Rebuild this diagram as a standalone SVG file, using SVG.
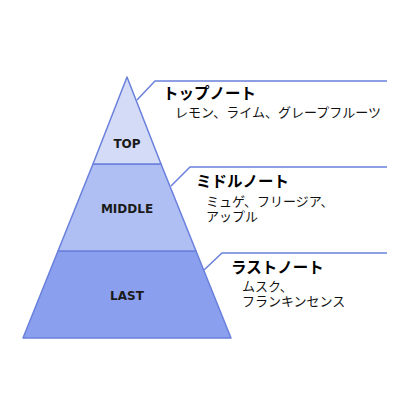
<svg xmlns="http://www.w3.org/2000/svg" width="410" height="410" viewBox="0 0 410 410">
<style>
.tier{stroke:#6a80dc;stroke-width:1.5;stroke-linejoin:round}
.lbl{font-family:"DejaVu Sans",sans-serif;font-weight:bold;font-size:12px;fill:#1a1a1a;text-anchor:middle}
.hd{font-family:"Noto Sans CJK JP",sans-serif;font-weight:bold;font-size:15.5px;fill:#000}
.sub{font-family:"Noto Sans CJK JP",sans-serif;font-size:13px;fill:#111}
.conn{fill:none;stroke:#6a80dc;stroke-width:1.5}
</style>
<rect width="410" height="410" fill="#fff"/>
<g id="connectors">
<polyline class="conn" points="137,100 155,81 387,81"/>
<polyline class="conn" points="171,186 190,167 387,167"/>
<polyline class="conn" points="204,270 222,253 387,253"/>
</g>
<g id="last">
<polygon class="tier" fill="#8a9fee" points="58,251 196,251 231,338 23,338"/>
<text class="lbl" x="127" y="300">LAST</text>
</g>
<g id="middle">
<polygon class="tier" fill="#afbef3" points="93,164 161,164 196,251 58,251"/>
<text class="lbl" x="127" y="212.5">MIDDLE</text>
</g>
<g id="top">
<polygon class="tier" fill="#d4dbf7" points="127,77 161,164 93,164"/>
<text class="lbl" x="127" y="147.5">TOP</text>
</g>
<g id="top-note">
<text class="hd" x="163" y="99">トップノート</text>
<text class="sub" x="175" y="117">レモン、ライム、グレープフルーツ</text>
</g>
<g id="middle-note">
<text class="hd" x="196" y="187">ミドルノート</text>
<text class="sub" x="206" y="205.5">ミュゲ、フリージア、</text>
<text class="sub" x="206" y="220.5">アップル</text>
</g>
<g id="last-note">
<text class="hd" x="231" y="273">ラストノート</text>
<text class="sub" x="242" y="290.5">ムスク、</text>
<text class="sub" x="242" y="306">フランキンセンス</text>
</g>
</svg>
